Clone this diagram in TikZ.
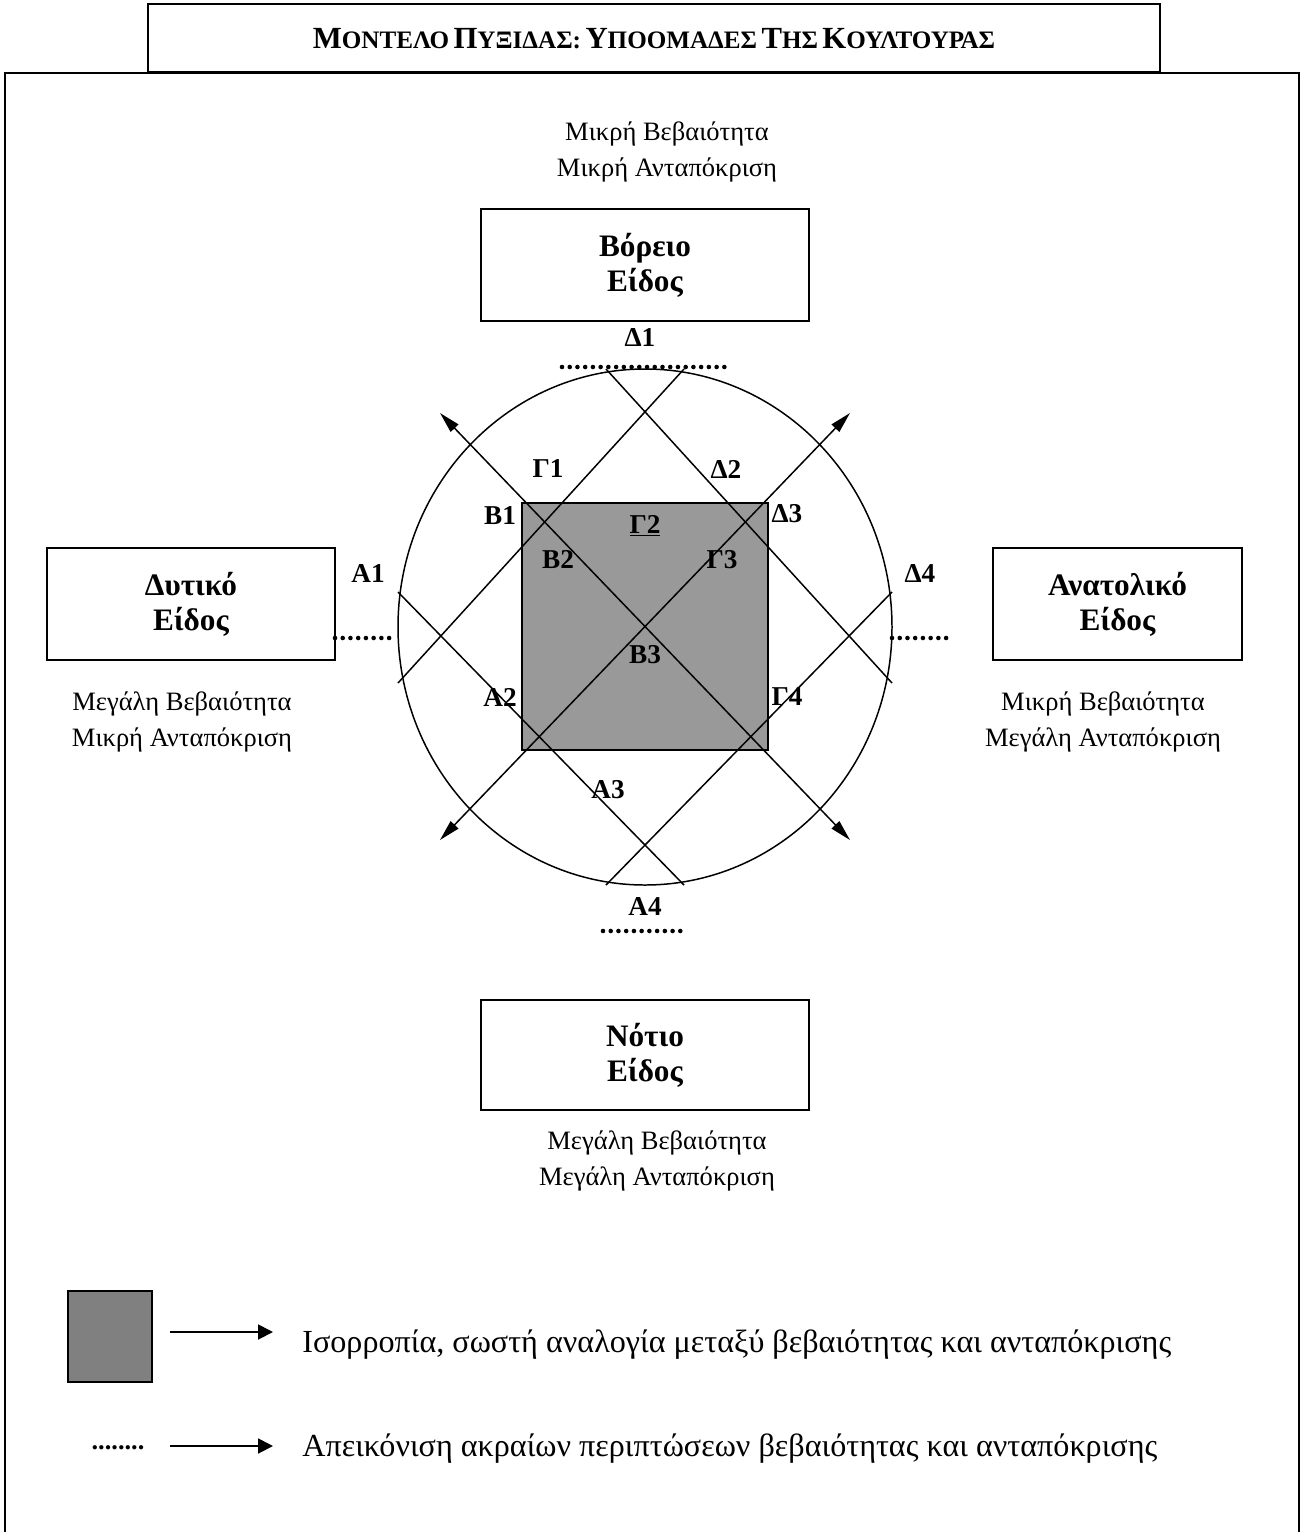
\documentclass[tikz,border=0pt]{standalone}
\usepackage{fontspec}
\setmainfont{Liberation Serif}
\usetikzlibrary{positioning, arrows.meta, calc}

% first letter large, rest as small capitals
\newcommand{\capword}[2]{{\fontsize{17.5}{19}\selectfont #1}{\fontsize{14.3}{16}\selectfont #2}}

\begin{document}
\begin{tikzpicture}[
  x=0.02cm, y=-0.02cm,
  kindbox/.style={
    draw, line width=0.9pt, minimum width=#1, minimum height=2.24cm,
    align=center, font=\fontsize{17.8}{20}\selectfont\bfseries
  },
  kinddesc/.style={
    align=center, font=\fontsize{15.1}{20.5}\selectfont
  },
  zonelabel/.style={font=\fontsize{15.5}{18}\selectfont\bfseries, inner sep=1pt},
  dotline/.style={line width=2.6pt, line cap=round, dash pattern=on 0pt off 4.4pt},
  diagline/.style={line width=0.85pt},
  compass/.style={
    line width=0.85pt,
    {Triangle[length=12pt,width=6pt]}-{Triangle[length=12pt,width=6pt]}
  },
  keyarrow/.style={line width=1.1pt, -{Triangle[length=8.5pt,width=8.5pt]}},
  keytext/.style={font=\fontsize{18.3}{21}\selectfont, anchor=west, inner sep=0pt},
]
\useasboundingbox (0,0) rectangle (1304,1532);

% frame and title
\draw[line width=0.9pt] (5,1532) -- (5,73) -- (1299,73) -- (1299,1532);
\node[draw, line width=0.9pt, minimum width=20.24cm, minimum height=1.36cm,
      anchor=south, font=\bfseries] (title) at (654,73) {%
  \capword{Μ}{ΟΝΤΕΛΟ} \capword{Π}{ΥΞΙΔΑΣ:} \capword{Υ}{ΠΟΟΜΑΔΕΣ}
  \capword{Τ}{ΗΣ} \capword{Κ}{ΟΥΛΤΟΥΡΑΣ}};

% the four kinds
\node[kindbox=6.56cm] (north) at (645,265) {Βόρειο\\Είδος};
\node[kindbox=5.76cm] (west) at (191,604) {Δυτικό\\Είδος};
\node[kindbox=4.98cm] (east) at (1117.5,604) {Ανατολικό\\Είδος};
\node[kindbox=6.56cm, minimum height=2.2cm] (south) at (645,1055) {Νότιο\\Είδος};

\node[kinddesc] (northdesc) at (667,152) {Μικρή Βεβαιότητα\\Μικρή Ανταπόκριση};
\node[kinddesc] (westdesc) at (182,722) {Μεγάλη Βεβαιότητα\\Μικρή Ανταπόκριση};
\node[kinddesc] (eastdesc) at (1103,722) {Μικρή Βεβαιότητα\\Μεγάλη Ανταπόκριση};
\node[kinddesc] (southdesc) at (657,1161) {Μεγάλη Βεβαιότητα\\Μεγάλη Ανταπόκριση};

% compass
\node[draw, line width=0.85pt, fill=black!40, minimum width=4.92cm,
      minimum height=4.94cm] (core) at (645,626.5) {};
\draw[line width=0.85pt] (645,627) ellipse [x radius=247, y radius=258];

\coordinate (nw) at (440,413);
\coordinate (ne) at (850,413);
\coordinate (sw) at (440,840);
\coordinate (se) at (850,840);
\draw[compass] (nw) -- (se);
\draw[compass] (sw) -- (ne);

\coordinate (topl) at (606,369);
\coordinate (topr) at (684,369);
\coordinate (lefth) at (398,592);
\coordinate (leftl) at (398,683);
\coordinate (righth) at (892,592);
\coordinate (rightl) at (892,683);
\coordinate (botl) at (606,885);
\coordinate (botr) at (684,885);
\draw[diagline] (topl) -- (rightl);
\draw[diagline] (topr) -- (leftl);
\draw[diagline] (lefth) -- (botr);
\draw[diagline] (righth) -- (botl);

% extreme cases
\draw[dotline] (562,367) -- (725,367);
\draw[dotline] (335,638) -- (393,638);
\draw[dotline] (892,638) -- (949,638);
\draw[dotline] (603,931) -- (684,931);

\node[zonelabel] (d1) at (640,338) {Δ1};
\node[zonelabel] (g1) at (548,469) {Γ1};
\node[zonelabel] (d2) at (726,469) {Δ2};
\node[zonelabel] (b1) at (500,516) {Β1};
\node[zonelabel] (g2) at (645,526) {\underline{Γ2}};
\node[zonelabel] (d3) at (787,514) {Δ3};
\node[zonelabel] (b2) at (558,560) {Β2};
\node[zonelabel] (g3) at (722,560) {Γ3};
\node[zonelabel] (a1) at (368,574) {Α1};
\node[zonelabel] (d4) at (920,574) {Δ4};
\node[zonelabel] (b3) at (645,655) {Β3};
\node[zonelabel] (a2) at (500,697) {Α2};
\node[zonelabel] (g4) at (787,697) {Γ4};
\node[zonelabel] (a3) at (608,790) {Α3};
\node[zonelabel] (a4) at (645,906) {Α4};

% legend
\node[draw, line width=0.8pt, fill=black!50, minimum width=1.68cm,
      minimum height=1.82cm] (keybox) at (110,1336.5) {};
\coordinate (keyonea) at (170,1332);
\coordinate (keyoneb) at (273,1332);
\draw[keyarrow] (keyonea) -- (keyoneb);
\node[keytext, right=0.58cm of keyoneb, yshift=-0.26cm] (keyonetext)
  {Ισορροπία, σωστή αναλογία μεταξύ βεβαιότητας και ανταπόκρισης};

\node[font=\fontsize{15}{17}\selectfont\bfseries, inner sep=0pt] (keydots) at (118,1448) {........};
\coordinate (keytwoa) at (170,1446);
\coordinate (keytwob) at (273,1446);
\draw[keyarrow] (keytwoa) -- (keytwob);
\node[keytext, right=0.58cm of keytwob, yshift=-0.05cm] (keytwotext)
  {Απεικόνιση ακραίων περιπτώσεων βεβαιότητας και ανταπόκρισης};

\end{tikzpicture}
\end{document}
